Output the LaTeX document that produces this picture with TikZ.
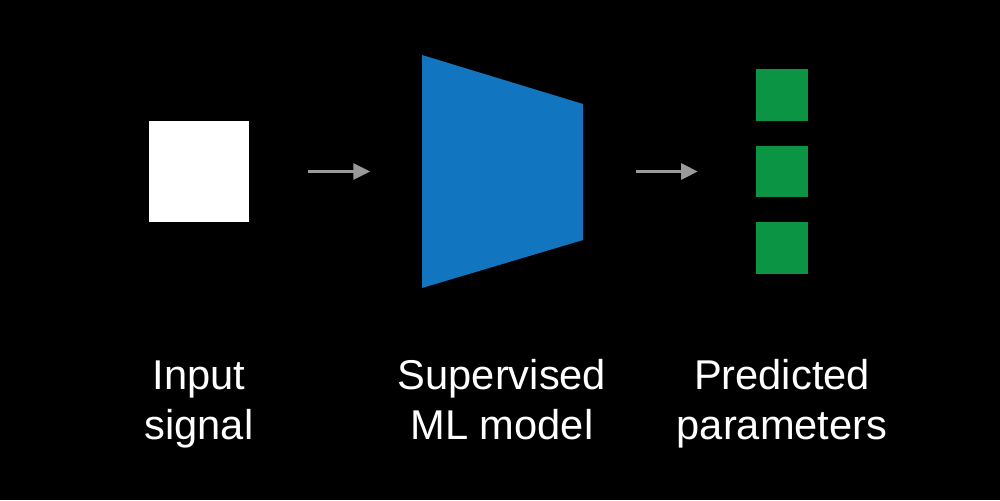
\documentclass[tikz,border=0pt]{standalone}
\usepackage{fontspec}
\setmainfont{Liberation Sans}
\usetikzlibrary{arrows.meta, positioning}
\definecolor{modelblue}{HTML}{1175BF}
\definecolor{paramgreen}{HTML}{0B9444}
\definecolor{arrowgray}{HTML}{9A9A9A}
\tikzset{
flow/.style={draw=arrowgray, line width=1.7pt, -{Triangle[length=9.5pt,width=9pt]}},
param/.style={fill=paramgreen, minimum size=1.04cm, inner sep=0pt},
caption/.style={text=white, font=\fontsize{23.7}{28.4}\selectfont, align=center, anchor=base}
}

\begin{document}
\begin{tikzpicture}[x=0.02cm, y=-0.02cm, node distance=0.48cm]
\fill[black] (0,0) rectangle (1000,500);
\useasboundingbox (0,0) rectangle (1000,500);
% input, model, outputs
\node[fill=white, minimum size=2.02cm, inner sep=0pt] (sig) at (199,171.5) {};
\fill[modelblue] (422,55) -- (583,104) -- (583,240) -- (422,288) -- cycle;
\coordinate (model-w) at (422,171.5);
\coordinate (model-e) at (583,171.5);
\node[param] (p2) at (782,171.5) {};
\node[param, above=of p2] (p1) {};
\node[param, below=of p2] (p3) {};
\draw[flow, shorten <=32.9pt, shorten >=29.5pt] (sig.east) -- (model-w);
\draw[flow, shorten <=30pt, shorten >=32.9pt] (model-e) -- (p2.west);
% captions
\node[caption] (sig-text) at (199,439) {Input\\signal};
\node[caption] (model-text) at (502,439) {Supervised\\ML model};
\node[caption] (param-text) at (782,439) {Predicted\\parameters};
\end{tikzpicture}
\end{document}
